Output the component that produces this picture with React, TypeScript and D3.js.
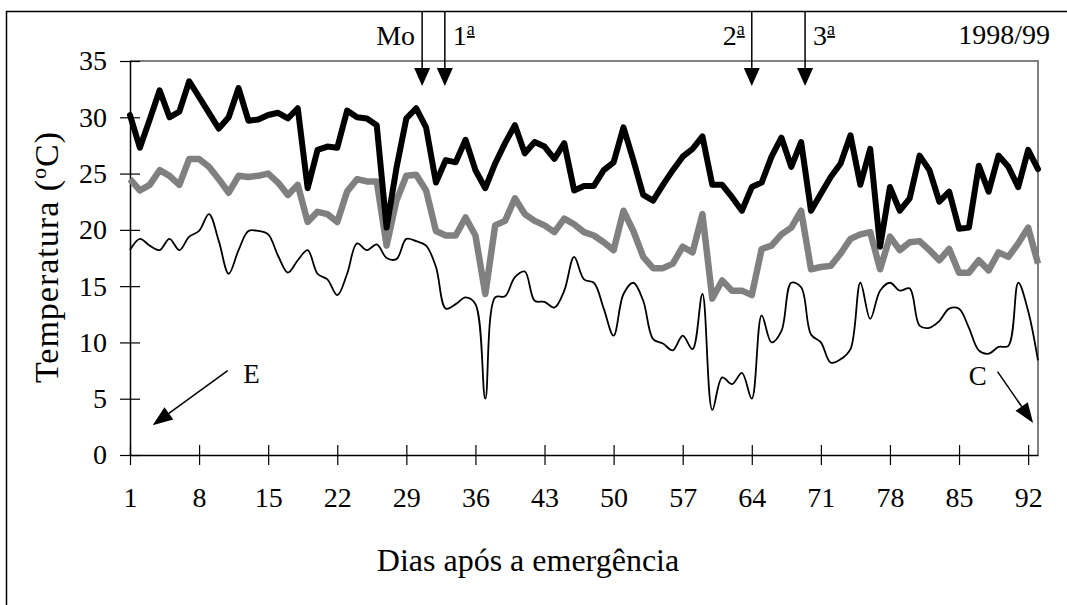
import { useEffect, useRef } from 'react';
import * as d3 from 'd3';

// daily temperatures (oC), day 1 .. 93 after emergence
const temp_max = [
    30.2, 27.3, 29.8, 32.4, 30.0, 30.5, 33.2, 31.8, 30.4, 29.0,
    30.0, 32.6, 29.7, 29.8, 30.2, 30.4, 29.9, 30.8, 23.7, 27.1,
    27.4, 27.3, 30.6, 30.0, 29.9, 29.3, 20.2, 25.5, 29.9, 30.8,
    29.1, 24.2, 26.2, 26.0, 28.0, 25.3, 23.7, 25.9, 27.7, 29.3,
    26.8, 27.8, 27.4, 26.3, 27.7, 23.5, 23.9, 23.9, 25.3, 26.0,
    29.1, 26.2, 23.1, 22.6, 24.0, 25.3, 26.5, 27.2, 28.3, 24.0,
    24.0, 22.9, 21.7, 23.8, 24.2, 26.5, 28.2, 25.6, 27.8, 21.7,
    23.2, 24.7, 25.9, 28.4, 24.0, 27.2, 18.5, 23.8, 21.7, 22.8,
    26.6, 25.3, 22.5, 23.4, 20.1, 20.2, 25.7, 23.4, 26.6, 25.6,
    23.8, 27.1, 25.4
];

const temp_mean = [
    24.5, 23.5, 24.0, 25.3, 24.8, 24.0, 26.3, 26.3, 25.6, 24.5,
    23.3, 24.8, 24.7, 24.8, 25.0, 24.2, 23.1, 24.0, 20.7, 21.6,
    21.4, 20.7, 23.4, 24.5, 24.3, 24.3, 18.6, 22.6, 24.8, 24.9,
    23.5, 19.9, 19.5, 19.5, 21.1, 19.5, 14.3, 20.4, 20.8, 22.8,
    21.4, 20.8, 20.4, 19.8, 21.0, 20.5, 19.8, 19.5, 18.9, 18.2,
    21.7, 19.9, 17.6, 16.6, 16.6, 17.0, 18.5, 18.0, 21.4, 13.9,
    15.5, 14.6, 14.6, 14.2, 18.3, 18.6, 19.6, 20.2, 21.7, 16.5,
    16.7, 16.8, 17.9, 19.2, 19.6, 19.8, 16.5, 19.4, 18.2, 18.9,
    19.0, 18.2, 17.3, 18.3, 16.2, 16.2, 17.3, 16.4, 18.0, 17.6,
    18.8, 20.2, 17.0
];

const temp_min = [
    18.2, 19.2, 18.6, 18.2, 19.2, 18.2, 19.4, 19.9, 21.4, 19.0,
    16.1, 18.2, 19.9, 19.9, 19.6, 17.7, 16.2, 17.3, 18.2, 16.1,
    15.6, 14.2, 16.1, 18.8, 18.2, 18.7, 17.5, 17.4, 19.2, 19.0,
    18.6, 16.7, 13.0, 13.4, 14.0, 13.4, 5.0, 14.0, 14.1, 15.8,
    16.3, 13.7, 13.6, 13.1, 14.6, 17.6, 15.6, 15.3, 13.0, 10.6,
    14.3, 15.3, 13.7, 10.3, 9.9, 9.3, 10.6, 9.4, 14.3, 4.0,
    6.9, 6.3, 7.3, 5.0, 12.4, 10.0, 11.0, 15.3, 14.9, 10.7,
    10.0, 8.2, 8.5, 9.4, 15.3, 12.1, 14.6, 15.3, 14.6, 14.8,
    11.5, 11.3, 11.9, 13.0, 13.0, 11.3, 9.3, 9.0, 9.6, 9.7,
    15.3, 12.8, 8.4
];

const x_tick_values = [1, 8, 15, 22, 29, 36, 43, 50, 57, 64, 71, 78, 85, 92];
const y_tick_values = [0, 5, 10, 15, 20, 25, 30, 35];

// management events marked with arrows on top
const event_numbers = ['Mo', '1', '2', '3'];
const event_days = [30.6, 32.9, 64, 69.4];
const event_label_sides = ['left', 'right', 'left', 'right'];

const font = '"Liberation Serif", "Times New Roman", serif';

export default function App() {
    const ref = useRef<SVGSVGElement>(null);

    useEffect(() => {
        const width = 1067;
        const height = 605;
        const plot_left = 130;
        const plot_right = 1038;
        const plot_top = 61;
        const plot_bottom = 455;

        const svg = d3.select(ref.current);
        svg.selectAll('*').remove();

        svg.append('rect')
            .attr('width', width)
            .attr('height', height)
            .attr('fill', 'white');

        // outer frame (only top and left visible)
        svg.append('path')
            .attr('d', `M6.5,${height} V11.5 H${width}`)
            .attr('fill', 'none')
            .attr('stroke', '#000')
            .attr('stroke-width', 1.5);

        // scales
        const x_scale = d3.scaleLinear()
            .domain([1, 93])
            .range([plot_left, plot_right]);

        const y_scale = d3.scaleLinear()
            .domain([0, 35])
            .range([plot_bottom, plot_top]);

        // plot area border
        svg.append('path')
            .attr('d', `M${plot_left},${plot_top} H${plot_right} V${plot_bottom}`)
            .attr('fill', 'none')
            .attr('stroke', '#808080')
            .attr('stroke-width', 2);

        // y axis
        const y_axis = d3.axisLeft(y_scale)
            .tickValues(y_tick_values)
            .tickSizeInner(10)
            .tickSizeOuter(0)
            .tickPadding(13);
        const gy = svg.append('g')
            .attr('transform', `translate(${plot_left},0)`)
            .call(y_axis)
            .attr('font-family', font)
            .attr('font-size', 28);
        gy.select('.domain').attr('stroke', '#000').attr('stroke-width', 1.5);
        gy.selectAll('.tick line').attr('x1', 10).attr('stroke-width', 1.2);
        gy.selectAll('.tick text').attr('fill', '#000');

        // x axis
        const x_axis = d3.axisBottom(x_scale)
            .tickValues(x_tick_values)
            .tickFormat(d3.format('d'))
            .tickSizeInner(10)
            .tickSizeOuter(0)
            .tickPadding(22);
        const gx = svg.append('g')
            .attr('transform', `translate(0,${plot_bottom})`)
            .call(x_axis)
            .attr('font-family', font)
            .attr('font-size', 28);
        gx.select('.domain').attr('stroke', '#000').attr('stroke-width', 1.5);
        gx.selectAll('.tick line').attr('y1', -10).attr('stroke-width', 1.2);
        gx.selectAll('.tick text').attr('fill', '#000');

        // axis titles
        svg.append('text')
            .attr('x', 528)
            .attr('y', 571)
            .attr('text-anchor', 'middle')
            .attr('font-family', font)
            .attr('font-size', 32)
            .text('Dias após a emergência');

        const y_title = svg.append('text')
            .attr('transform', 'translate(58,257) rotate(-90)')
            .attr('text-anchor', 'middle')
            .attr('font-family', font)
            .attr('font-size', 34)
            .attr('letter-spacing', 1);
        y_title.append('tspan').text('Temperatura (');
        y_title.append('tspan').attr('font-size', 22).attr('dy', -12).text('o');
        y_title.append('tspan').attr('dy', 12).text('C)');

        // lines
        const line_straight = d3.line<number>()
            .x((d, i) => x_scale(i + 1))
            .y(d => y_scale(d));

        const line_smooth = d3.line<number>()
            .x((d, i) => x_scale(i + 1))
            .y(d => y_scale(d))
            .curve(d3.curveCatmullRom.alpha(0.5));

        svg.append('path')
            .attr('d', line_smooth(temp_min))
            .attr('fill', 'none')
            .attr('stroke', '#000')
            .attr('stroke-width', 1.8);

        svg.append('path')
            .attr('d', line_straight(temp_mean))
            .attr('fill', 'none')
            .attr('stroke', '#808080')
            .attr('stroke-width', 6.5)
            .attr('stroke-linejoin', 'round');

        svg.append('path')
            .attr('d', line_straight(temp_max))
            .attr('fill', 'none')
            .attr('stroke', '#000')
            .attr('stroke-width', 6)
            .attr('stroke-linejoin', 'round')
            .attr('stroke-linecap', 'round');

        // arrow helper
        const drawArrow = (x1, y1, x2, y2, head_len, head_w) => {
            const angle = Math.atan2(y2 - y1, x2 - x1);
            const bx = x2 - head_len * Math.cos(angle);
            const by = y2 - head_len * Math.sin(angle);
            const nx = -Math.sin(angle) * head_w / 2;
            const ny = Math.cos(angle) * head_w / 2;
            svg.append('line')
                .attr('x1', x1).attr('y1', y1)
                .attr('x2', bx).attr('y2', by)
                .attr('stroke', '#000')
                .attr('stroke-width', 1.5);
            svg.append('path')
                .attr('d', `M${x2},${y2} L${bx + nx},${by + ny} L${bx - nx},${by - ny} Z`)
                .attr('fill', '#000');
        };

        // event arrows from the frame top
        event_days.forEach((day, i) => {
            const ex = x_scale(day);
            drawArrow(ex, 11, ex, 86, 18, 16);
            const left = event_label_sides[i] === 'left';
            const label = svg.append('text')
                .attr('x', left ? ex - 7 : ex + 8)
                .attr('y', 45)
                .attr('text-anchor', left ? 'end' : 'start')
                .attr('font-family', font)
                .attr('font-size', 28);
            label.append('tspan').text(event_numbers[i]);
            if (event_numbers[i] !== 'Mo') {
                // ordinal mark: raised, underlined "a"
                label.append('tspan')
                    .attr('font-size', 18)
                    .attr('dy', -10)
                    .style('text-decoration', 'underline')
                    .text('a');
            }
        });

        svg.append('text')
            .attr('x', 1050)
            .attr('y', 44)
            .attr('text-anchor', 'end')
            .attr('font-family', font)
            .attr('font-size', 28)
            .text('1998/99');

        // emergence (E) and harvest (C)
        drawArrow(x_scale(10.9), y_scale(7.5), x_scale(3.3), y_scale(2.65), 20, 15);
        svg.append('text')
            .attr('x', x_scale(13.3))
            .attr('y', y_scale(6.4))
            .attr('text-anchor', 'middle')
            .attr('font-family', font)
            .attr('font-size', 27)
            .text('E');

        drawArrow(x_scale(88.9), y_scale(7.4), x_scale(92.5), y_scale(2.85), 20, 15);
        svg.append('text')
            .attr('x', x_scale(86.9))
            .attr('y', y_scale(6.2))
            .attr('text-anchor', 'middle')
            .attr('font-family', font)
            .attr('font-size', 27)
            .text('C');
    }, []);

    return (
        <div style={{ position: 'absolute', left: 0, top: 0 }}>
            <svg ref={ref} width={1067} height={605} style={{ display: 'block' }}></svg>
        </div>
    );
}
